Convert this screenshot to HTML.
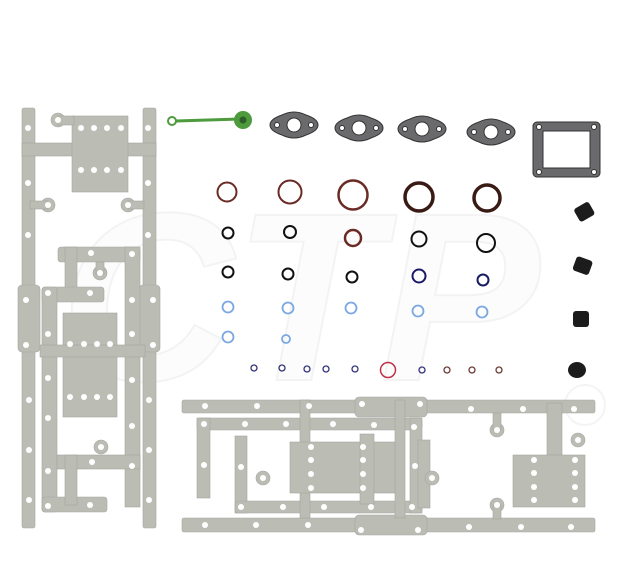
<!DOCTYPE html>
<html><head><style>html,body{margin:0;padding:0;background:#fff}svg{display:block}</style></head>
<body>
<svg width="629" height="582" viewBox="0 0 629 582" xmlns="http://www.w3.org/2000/svg">
<!-- watermark -->
<g fill="none" stroke="#f4f4f4" stroke-width="2">
<text x="60" y="380" font-family="Liberation Sans, sans-serif" font-size="240" font-style="italic" font-weight="bold" fill="#fcfcfc" stroke="#f3f3f3">CTP</text>
<circle cx="585" cy="405" r="20"/>
</g>
<g fill="#bbbdb5" stroke="#a4a69f" stroke-width="0.6">
<!-- left gasket -->
<rect x="22" y="108" width="13" height="420" rx="2"/>
<rect x="18" y="285" width="22" height="67" rx="4"/>
<rect x="143" y="108" width="13" height="420" rx="2"/>
<rect x="139" y="285" width="21" height="67" rx="4"/>
<rect x="22" y="143" width="134" height="13"/>
<rect x="72" y="116" width="56" height="76"/>
<circle cx="58" cy="120" r="7"/><rect x="58" y="116" width="16" height="9"/>
<circle cx="48" cy="205" r="7"/><rect x="30" y="201" width="18" height="8"/>
<circle cx="128" cy="205" r="7"/><rect x="128" y="201" width="16" height="8"/>
<rect x="58" y="247" width="82" height="15" rx="3"/>
<rect x="65" y="247" width="12" height="45"/>
<circle cx="100" cy="273" r="7"/><rect x="96" y="262" width="8" height="12"/>
<rect x="125" y="247" width="15" height="260"/>
<rect x="42" y="287" width="62" height="15" rx="3"/>
<rect x="42" y="287" width="15" height="225" rx="3"/>
<rect x="42" y="497" width="65" height="15" rx="3"/>
<rect x="63" y="313" width="54" height="104"/>
<rect x="40" y="345" width="105" height="12"/>
<rect x="57" y="455" width="83" height="14"/>
<rect x="65" y="455" width="12" height="50"/>
<circle cx="101" cy="447" r="7"/>
<!-- bottom gasket -->
<rect x="182" y="400" width="413" height="13" rx="2"/>
<rect x="355" y="397" width="72" height="20" rx="4"/>
<rect x="182" y="518" width="413" height="14" rx="2"/>
<rect x="355" y="515" width="72" height="20" rx="4"/>
<rect x="197" y="418" width="225" height="12" rx="3"/>
<rect x="197" y="418" width="13" height="80"/>
<rect x="235" y="436" width="12" height="77"/>
<rect x="235" y="501" width="187" height="12" rx="3"/>
<rect x="410" y="418" width="12" height="95"/>
<rect x="418" y="440" width="12" height="68"/>
<rect x="300" y="400" width="10" height="118"/>
<rect x="395" y="400" width="10" height="118"/>
<rect x="290" y="442" width="105" height="51"/>
<rect x="360" y="434" width="14" height="70"/>
<circle cx="263" cy="478" r="7"/><circle cx="432" cy="478" r="7"/>
<circle cx="497" cy="430" r="7"/><rect x="493" y="413" width="8" height="17"/>
<circle cx="497" cy="505" r="7"/><rect x="493" y="505" width="8" height="14"/>
<rect x="547" y="403" width="15" height="52"/>
<rect x="513" y="455" width="72" height="52"/>
<circle cx="578" cy="440" r="7"/>
</g>
<!-- holes -->
<g fill="#fff">
<circle cx="28" cy="128" r="3"/><circle cx="148" cy="128" r="3"/>
<circle cx="28" cy="183" r="3"/><circle cx="148" cy="183" r="3"/>
<circle cx="28" cy="235" r="3"/><circle cx="148" cy="235" r="3"/>
<circle cx="26" cy="300" r="3"/><circle cx="153" cy="300" r="3"/>
<circle cx="26" cy="345" r="3"/><circle cx="153" cy="345" r="3"/>
<circle cx="29" cy="400" r="3"/><circle cx="149" cy="400" r="3"/>
<circle cx="29" cy="450" r="3"/><circle cx="149" cy="450" r="3"/>
<circle cx="29" cy="500" r="3"/><circle cx="149" cy="500" r="3"/>
<circle cx="81" cy="128" r="3"/><circle cx="94" cy="128" r="3"/><circle cx="107" cy="128" r="3"/><circle cx="121" cy="128" r="3"/>
<circle cx="81" cy="170" r="3"/><circle cx="94" cy="170" r="3"/><circle cx="107" cy="170" r="3"/><circle cx="121" cy="170" r="3"/>
<circle cx="70" cy="344" r="3"/><circle cx="84" cy="344" r="3"/><circle cx="97" cy="344" r="3"/><circle cx="110" cy="344" r="3"/>
<circle cx="70" cy="397" r="3"/><circle cx="84" cy="397" r="3"/><circle cx="97" cy="397" r="3"/><circle cx="110" cy="397" r="3"/>
<circle cx="58" cy="120" r="3"/><circle cx="48" cy="205" r="3"/><circle cx="128" cy="205" r="3"/><circle cx="100" cy="273" r="3"/><circle cx="101" cy="447" r="3"/>
<circle cx="91" cy="253" r="3"/><circle cx="132" cy="254" r="3"/><circle cx="48" cy="293" r="3"/><circle cx="90" cy="293" r="3"/>
<circle cx="132" cy="300" r="3"/><circle cx="48" cy="334" r="3"/><circle cx="132" cy="334" r="3"/><circle cx="48" cy="378" r="3"/>
<circle cx="132" cy="380" r="3"/><circle cx="48" cy="418" r="3"/><circle cx="132" cy="426" r="3"/><circle cx="48" cy="471" r="3"/>
<circle cx="132" cy="466" r="3"/><circle cx="48" cy="506" r="3"/><circle cx="90" cy="505" r="3"/><circle cx="92" cy="462" r="3"/>
<circle cx="205" cy="406" r="3"/><circle cx="257" cy="406" r="3"/><circle cx="309" cy="406" r="3"/><circle cx="362" cy="404" r="3"/><circle cx="420" cy="404" r="3"/><circle cx="471" cy="409" r="3"/><circle cx="523" cy="409" r="3"/><circle cx="574" cy="409" r="3"/>
<circle cx="205" cy="525" r="3"/><circle cx="256" cy="525" r="3"/><circle cx="308" cy="525" r="3"/><circle cx="361" cy="530" r="3"/><circle cx="418" cy="530" r="3"/><circle cx="469" cy="527" r="3"/><circle cx="521" cy="527" r="3"/><circle cx="571" cy="527" r="3"/>
<circle cx="204" cy="424" r="3"/><circle cx="245" cy="424" r="3"/><circle cx="286" cy="424" r="3"/><circle cx="333" cy="424" r="3"/><circle cx="374" cy="425" r="3"/><circle cx="414" cy="427" r="3"/>
<circle cx="204" cy="465" r="3"/><circle cx="241" cy="467" r="3"/><circle cx="415" cy="466" r="3"/><circle cx="454" cy="470" r="3"/>
<circle cx="241" cy="507" r="3"/><circle cx="283" cy="507" r="3"/><circle cx="324" cy="507" r="3"/><circle cx="371" cy="507" r="3"/><circle cx="412" cy="507" r="3"/>
<circle cx="311" cy="447" r="3"/><circle cx="311" cy="460" r="3"/><circle cx="311" cy="474" r="3"/><circle cx="311" cy="488" r="3"/>
<circle cx="363" cy="447" r="3"/><circle cx="363" cy="460" r="3"/><circle cx="363" cy="474" r="3"/><circle cx="363" cy="488" r="3"/>
<circle cx="534" cy="460" r="3"/><circle cx="534" cy="473" r="3"/><circle cx="534" cy="487" r="3"/><circle cx="534" cy="500" r="3"/>
<circle cx="575" cy="460" r="3"/><circle cx="575" cy="473" r="3"/><circle cx="575" cy="487" r="3"/><circle cx="575" cy="500" r="3"/>
<circle cx="263" cy="478" r="3"/><circle cx="432" cy="478" r="3"/><circle cx="497" cy="430" r="3"/><circle cx="497" cy="505" r="3"/><circle cx="578" cy="440" r="3"/>
</g>
<!-- green part -->
<line x1="176" y1="121" x2="240" y2="119" stroke="#4e9b3e" stroke-width="3"/>
<circle cx="172" cy="121" r="4" fill="#fff" stroke="#4e9b3e" stroke-width="2"/>
<circle cx="243" cy="120" r="9" fill="#4e9b3e"/><circle cx="243" cy="120" r="3.5" fill="#2f5d28"/>
<!-- flanges -->
<g fill="#6a6a6c" stroke="#333" stroke-width="1">
<g transform="translate(294,125)"><path d="M-24,0 Q-24,-6 -12,-10 Q0,-16 12,-10 Q24,-6 24,0 Q24,6 12,10 Q0,16 -12,10 Q-24,6 -24,0Z"/><circle r="7" fill="#fff"/><circle cx="-17" r="2.5" fill="#fff"/><circle cx="17" r="2.5" fill="#fff"/></g>
<g transform="translate(359,128)"><path d="M-24,0 Q-24,-6 -12,-10 Q0,-16 12,-10 Q24,-6 24,0 Q24,6 12,10 Q0,16 -12,10 Q-24,6 -24,0Z"/><circle r="7" fill="#fff"/><circle cx="-17" r="2.5" fill="#fff"/><circle cx="17" r="2.5" fill="#fff"/></g>
<g transform="translate(422,129)"><path d="M-24,0 Q-24,-6 -12,-10 Q0,-16 12,-10 Q24,-6 24,0 Q24,6 12,10 Q0,16 -12,10 Q-24,6 -24,0Z"/><circle r="7" fill="#fff"/><circle cx="-17" r="2.5" fill="#fff"/><circle cx="17" r="2.5" fill="#fff"/></g>
<g transform="translate(491,132)"><path d="M-24,0 Q-24,-6 -12,-10 Q0,-16 12,-10 Q24,-6 24,0 Q24,6 12,10 Q0,16 -12,10 Q-24,6 -24,0Z"/><circle r="7" fill="#fff"/><circle cx="-17" r="2.5" fill="#fff"/><circle cx="17" r="2.5" fill="#fff"/></g>
<rect x="533" y="122" width="67" height="55" rx="4"/>
<path d="M543,131 L590,131 L590,168 L543,168Z" fill="#fff" stroke="#333"/>
<circle cx="539" cy="127" r="2.5" fill="#fff"/><circle cx="594" cy="127" r="2.5" fill="#fff"/><circle cx="539" cy="172" r="2.5" fill="#fff"/><circle cx="594" cy="172" r="2.5" fill="#fff"/>
</g>
<!-- o-rings -->
<g fill="none">
<circle cx="227" cy="192" r="9.5" stroke="#6b2b25" stroke-width="2"/>
<circle cx="290" cy="192" r="11.5" stroke="#6b2b25" stroke-width="2"/>
<circle cx="353" cy="195" r="14.5" stroke="#6b2b25" stroke-width="2.5"/>
<circle cx="419" cy="197" r="14" stroke="#3a1a14" stroke-width="3.5"/>
<circle cx="487" cy="198" r="13" stroke="#3a1a14" stroke-width="3.5"/>
<g stroke="#111" stroke-width="2">
<circle cx="228" cy="233" r="5.5"/><circle cx="290" cy="232" r="6"/><circle cx="419" cy="239" r="7.5"/><circle cx="486" cy="243" r="9"/>
<circle cx="228" cy="272" r="5.5"/><circle cx="288" cy="274" r="5.5"/><circle cx="352" cy="277" r="5.5"/>
</g>
<circle cx="353" cy="238" r="8" stroke="#6b2b25" stroke-width="2.5"/>
<circle cx="419" cy="276" r="6.5" stroke="#1a1a66" stroke-width="2"/>
<circle cx="483" cy="280" r="5.5" stroke="#1a1a66" stroke-width="2"/>
<g stroke="#7aa8e0" stroke-width="1.8">
<circle cx="228" cy="307" r="5.5"/><circle cx="288" cy="308" r="5.5"/><circle cx="351" cy="308" r="5.5"/><circle cx="418" cy="311" r="5.5"/><circle cx="482" cy="312" r="5.5"/>
<circle cx="228" cy="337" r="5.5"/><circle cx="286" cy="339" r="4"/>
</g>
<g stroke="#33337a" stroke-width="1.3">
<circle cx="254" cy="368" r="3"/><circle cx="282" cy="368" r="3"/><circle cx="307" cy="369" r="3"/><circle cx="326" cy="369" r="3"/><circle cx="355" cy="369" r="3"/><circle cx="422" cy="370" r="3"/>
</g>
<g stroke="#6b3a35" stroke-width="1.3">
<circle cx="447" cy="370" r="3"/><circle cx="472" cy="370" r="3"/><circle cx="499" cy="370" r="3"/>
</g>
<circle cx="388" cy="370" r="7.5" stroke="#c0304a" stroke-width="1.5"/>
</g>
<!-- right rubber parts -->
<g fill="#1c1c1c">
<rect x="576" y="204" width="17" height="15" rx="3" transform="rotate(-30 585 212)"/>
<rect x="574" y="258" width="17" height="15" rx="3" transform="rotate(20 582 266)"/>
<rect x="573" y="311" width="16" height="16" rx="3"/>
<ellipse cx="577" cy="370" rx="9" ry="8"/>
</g>
</svg>
</body></html>
